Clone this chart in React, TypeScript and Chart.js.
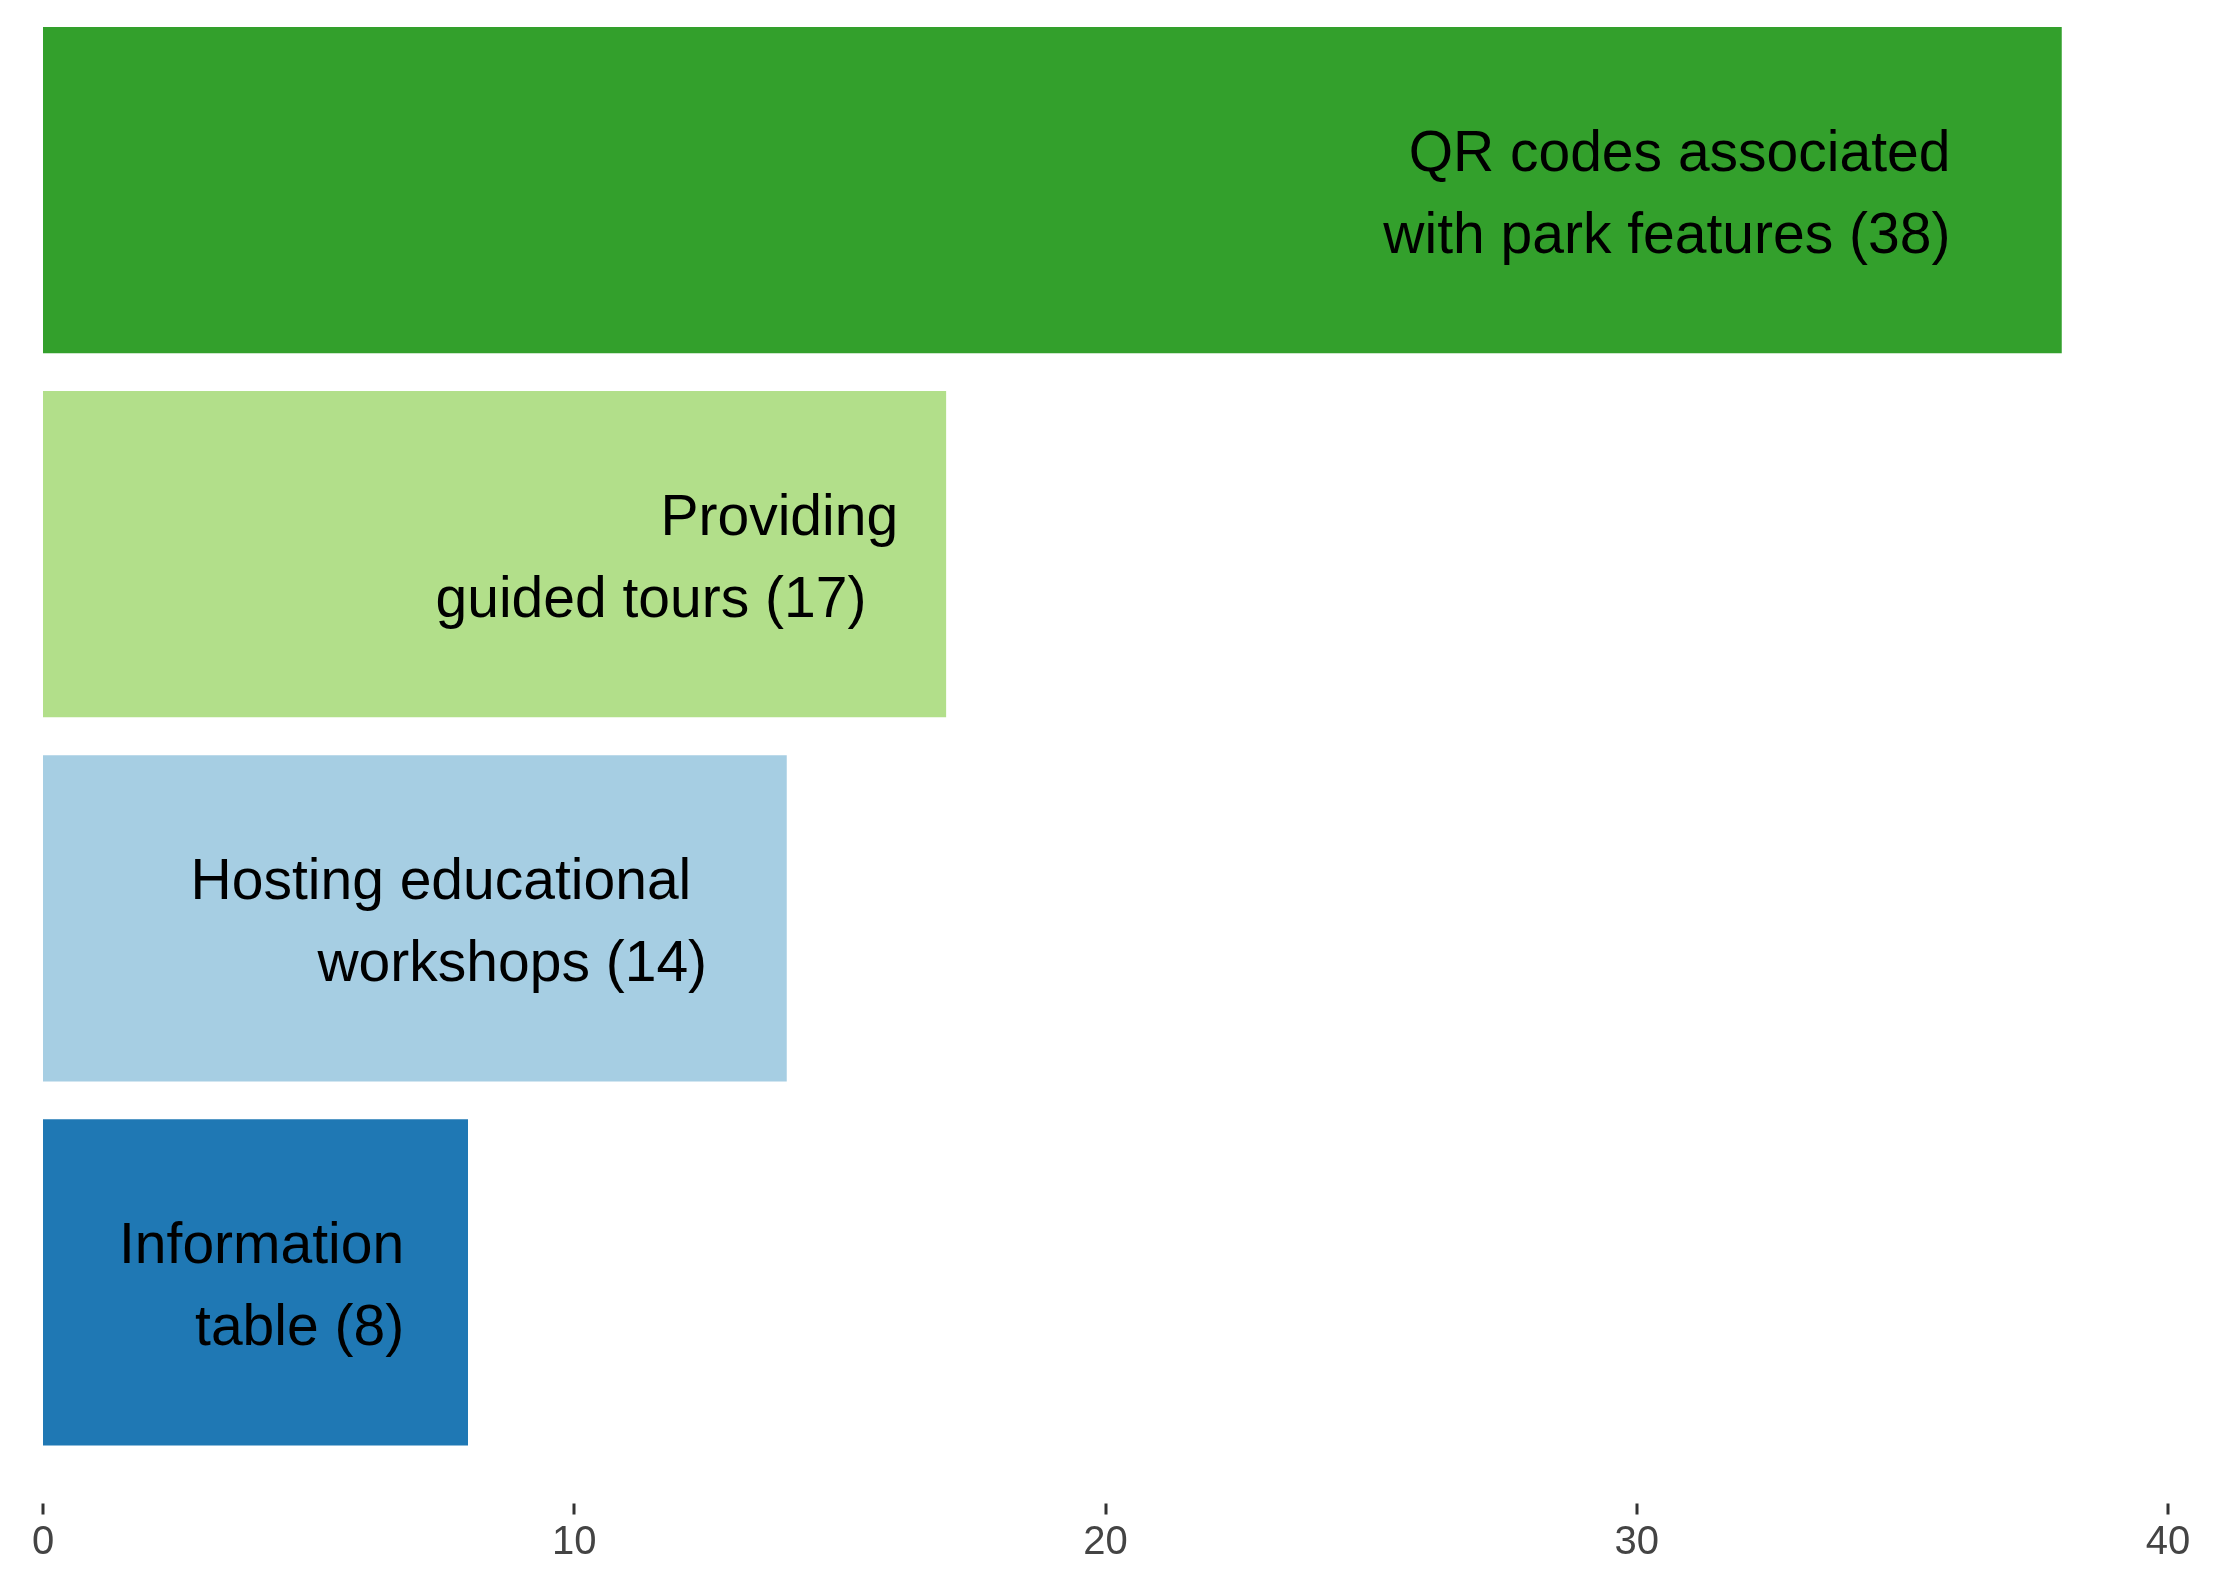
import React, { useEffect, useRef } from "react";
import { Chart, registerables } from "chart.js";

Chart.register(...registerables);

const categories = [
  "QR codes associated with park features",
  "Providing guided tours",
  "Hosting educational workshops",
  "Information table",
];
const values = [38, 17, 14, 8];
const barColors = ["#33a02c", "#b2df8a", "#a6cee3", "#1f78b4"];
const labelLines = [
  ["QR codes associated    ", "with park features (38)    "],
  ["Providing", "guided tours (17)  "],
  ["Hosting educational   ", "workshops (14)  "],
  ["Information ", "table (8) "],
];
const xTickValues = [0, 10, 20, 30, 40];

const FONT = "'Liberation Sans', Arial, Helvetica, sans-serif";

const barLabelPlugin = {
  id: "barLabels",
  afterDatasetsDraw(chart: any) {
    const meta = chart.getDatasetMeta(0);
    const ctx = chart.ctx;
    ctx.save();
    ctx.font = `57px ${FONT}`;
    ctx.fillStyle = "#000000";
    ctx.textAlign = "right";
    ctx.textBaseline = "middle";
    meta.data.forEach((bar: any, i: number) => {
      const lines = labelLines[i];
      const lh = 82;
      const startY = bar.y + 6 - ((lines.length - 1) * lh) / 2;
      lines.forEach((ln, j) => {
        ctx.fillText(ln, bar.x - 48, startY + j * lh);
      });
    });
    ctx.restore();
  },
};

const tickMarkPlugin = {
  id: "tickMarks",
  afterDraw(chart: any) {
    const xs = chart.scales.x;
    const ctx = chart.ctx;
    const b = chart.chartArea.bottom;
    ctx.save();
    ctx.strokeStyle = "#333333";
    ctx.lineWidth = 3;
    xTickValues.forEach((v) => {
      const px = Math.round(xs.getPixelForValue(v));
      ctx.beginPath();
      ctx.moveTo(px, b + 39);
      ctx.lineTo(px, b + 50);
      ctx.stroke();
    });
    ctx.restore();
  },
};

export default function App() {
  const ref = useRef<HTMLCanvasElement | null>(null);
  useEffect(() => {
    document.body.style.margin = "0";
    if (!ref.current) return;
    const chart = new Chart(ref.current, {
      type: "bar",
      data: {
        labels: categories,
        datasets: [
          {
            data: values,
            backgroundColor: barColors,
            borderWidth: 0,
            barPercentage: 0.896,
            categoryPercentage: 1,
          },
        ],
      },
      options: {
        indexAxis: "y",
        responsive: false,
        animation: false,
        layout: { padding: { left: 43, right: 54, top: 8, bottom: 0 } },
        plugins: { legend: { display: false }, tooltip: { enabled: false } },
        scales: {
          x: {
            type: "linear",
            min: 0,
            max: 40,
            afterBuildTicks: (scale: any) => {
              scale.ticks = xTickValues.map((v) => ({ value: v }));
            },
            afterFit: (scale: any) => {
              scale.height = 129.5;
              scale.paddingLeft = 0;
              scale.paddingRight = 0;
            },
            ticks: {
              font: { size: 40, family: FONT },
              color: "#444444",
              padding: 46,
            },
            grid: { display: false },
            border: { display: false },
          },
          y: { display: false },
        },
      },
      plugins: [barLabelPlugin, tickMarkPlugin],
    } as any);
    return () => chart.destroy();
  }, []);
  return (
    <canvas
      ref={ref}
      width={2222}
      height={1594}
      style={{ display: "block", width: 2222, height: 1594 }}
    />
  );
}
